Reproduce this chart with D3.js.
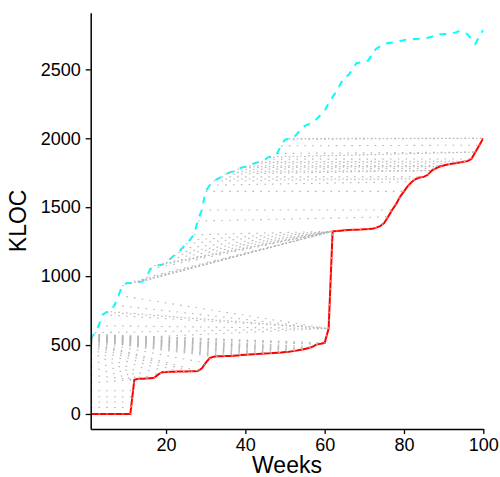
<!DOCTYPE html>
<html>
<head>
<meta charset="utf-8">
<script src="https://cdn.jsdelivr.net/npm/d3@7"></script>
<style>
  html, body { margin: 0; padding: 0; background: #ffffff; }
  svg { display: block; }
  text { font-family: "Liberation Sans", Arial, Helvetica, sans-serif; }
</style>
</head>
<body>
<svg id="chart" width="500" height="477"></svg>
<script>
// ---------------- data ----------------
// weeks 1..100
const weeks = d3.range(1, 101);

// released KLOC (red, solid)
const redKLOC = [
  0,0,0,0,0,0,0,0,0,0,0,
  248,255,256,258,260,262,285,303,
  305,306,307,308,308,309,310,310,312,
  330,370,405,416,
  418,419,420,421,423,425,427,429,431,433,435,437,439,
  440,442,444,446,449,452,456,460,
  466,472,478,488,505,510,516,620,
  1325,
  1328,1330,1332,1334,1336,1337,1338,1340,1341,1343,
  1352,1362,1385,1430,1480,1522,1575,1615,1655,1685,
  1705,1716,1720,1735,1766,1782,1795,1803,1810,1815,
  1819,1824,1829,1834,1850,1900,1950,2000
];

// developed KLOC (cyan, dashed)
const cyanKLOC = [
  540,590,640,720,738,742,790,860,930,948,
  950,952,955,962,990,1050,1075,1078,1082,1098,
  1125,1150,1170,1200,1235,1262,1300,1400,1480,1615,
  1660,1690,1705,1720,1740,1752,1760,1775,1787,1793,
  1800,1815,1825,1830,1848,1866,1862,1890,1945,1990,
  1997,2000,2030,2070,2090,2102,2118,2140,2170,2200,
  2255,2300,2340,2395,2445,2458,2500,2545,2550,2552,
  2565,2610,2650,2668,2685,2690,2694,2700,2706,2712,
  2719,2720,2720,2722,2725,2730,2737,2750,2755,2756,
  2758,2760,2768,2778,2770,2755,2720,2685,2740,2785
];

// week in which the code of development weeks 1..52 got released
const releaseWeek = [
  61,61,61,61,61,61,61,61,
  62,62,62,62,62,62,62,62,62,62,62,62,62,62,62,62,62,62,62,
  76,77,80,82,83,83,85,87,87,87,88,89,89,90,92,95,96,97,98,98,98,99,100,100,100
];

// links coming from development before week 1 (start level at left edge, release week)
const fanStartKLOC = [48,87,125,169,226,282,342,398,451,478,495,505,512,518,522,
  526,530,533,536,539,542,545,548,550,552,555,557,560,562,565,567,570,572,575,578];
const fanEndWeek = [11.19,11.35,11.5,11.68,12,12,12,13,14,16,18,20,23,26,28,
  30,32,34,36,38,40,42,44,46,48,50,52,53,54,55,56,57,58,59,60];

const xTicks = [20, 40, 60, 80, 100];
const yTicks = [0, 500, 1000, 1500, 2000, 2500];

// ---------------- chart ----------------
const svg = d3.select("#chart");
const x = d3.scaleLinear().domain([1, 100]).range([90.7, 483.3]);
const y = d3.scaleLinear().domain([-109, 2911]).range([429, 12.7]);

const redPts = weeks.map((w, i) => [w, redKLOC[i]]);
const cyanPts = weeks.map((w, i) => [w, cyanKLOC[i]]);

function redAt(w) {
  const i = Math.floor(w) - 1;
  if (i >= redKLOC.length - 1) return redKLOC[redKLOC.length - 1];
  const t = w - Math.floor(w);
  return redKLOC[i] + t * (redKLOC[i + 1] - redKLOC[i]);
}

svg.append("defs").append("clipPath").attr("id", "plotclip")
  .append("rect").attr("x", x(1)).attr("y", y.range()[1])
  .attr("width", x(100) - x(1)).attr("height", y.range()[0] - y.range()[1]);

const plot = svg.append("g").attr("clip-path", "url(#plotclip)");
const line = d3.line().x(d => x(d[0])).y(d => y(d[1]));

// links
const links = [];
releaseWeek.forEach((rw, i) => {
  links.push([[weeks[i], cyanKLOC[i]], [rw, redKLOC[rw - 1]]]);
});
fanStartKLOC.forEach((v, i) => {
  links.push([[1, v], [fanEndWeek[i], redAt(fanEndWeek[i])]]);
});

// red released line
plot.append("path").datum(redPts)
  .attr("d", line).attr("fill", "none")
  .attr("stroke", "#ff0000").attr("stroke-width", 2);

// cyan development line
plot.append("path").datum(cyanPts)
  .attr("d", line).attr("fill", "none")
  .attr("stroke", "#00ffff").attr("stroke-width", 2)
  .attr("stroke-dasharray", "6.8,6.8");

// grey dotted links
plot.selectAll("path.link").data(links).enter().append("path")
  .attr("class", "link")
  .attr("d", line).attr("fill", "none")
  .attr("stroke", "#b5b5b5").attr("stroke-width", 1.1)
  .attr("stroke-dasharray", "1.6,6.2");

// grey dotted trace on the red line
plot.append("path").datum(redPts)
  .attr("d", line).attr("fill", "none")
  .attr("stroke", "#c0c0c0").attr("stroke-width", 1)
  .attr("stroke-dasharray", "1.6,6.2");

// axes
const xAxis = svg.append("g").attr("transform", `translate(0,${y.range()[0]})`)
  .call(d3.axisBottom(x).tickValues(xTicks).tickFormat(d3.format("d"))
    .tickSize(5).tickSizeOuter(0).tickPadding(4));
const yAxis = svg.append("g").attr("transform", `translate(${x.range()[0]},0)`)
  .call(d3.axisLeft(y).tickValues(yTicks).tickFormat(d3.format("d"))
    .tickSize(5).tickSizeOuter(0).tickPadding(5));

[xAxis, yAxis].forEach(g => {
  g.select(".domain").attr("stroke", "#000").attr("stroke-width", 1.5);
  g.selectAll(".tick line").attr("stroke", "#000").attr("stroke-width", 1.3);
  g.selectAll(".tick text").attr("fill", "#000")
    .style("font-size", "18px")
    .style("font-family", "'Liberation Sans', Arial, sans-serif");
});

svg.append("text").attr("x", (x.range()[0] + x.range()[1]) / 2).attr("y", 473)
  .attr("text-anchor", "middle").style("font-size", "23px").attr("fill", "#000")
  .text("Weeks");

svg.append("text")
  .attr("transform", `translate(26,${(y.range()[0] + y.range()[1]) / 2}) rotate(-90)`)
  .attr("text-anchor", "middle").style("font-size", "23px").attr("fill", "#000")
  .text("KLOC");
</script>
</body>
</html>
